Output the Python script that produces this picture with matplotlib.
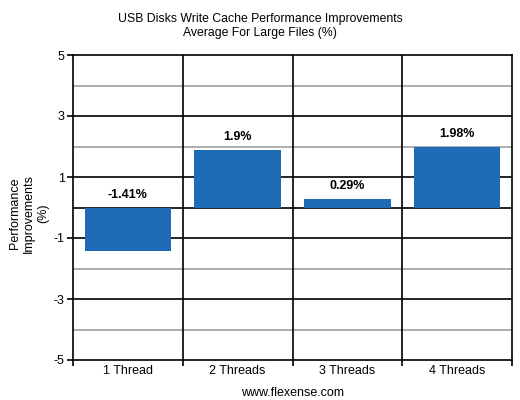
import matplotlib
matplotlib.use("Agg")
import matplotlib.pyplot as plt
from matplotlib.ticker import FixedLocator

plt.rcParams['font.family'] = ['Liberation Sans', 'DejaVu Sans']

categories = ["1 Thread", "2 Threads", "3 Threads", "4 Threads"]
values = [-1.41, 1.9, 0.29, 1.98]
labels = ["-1.41%", "1.9%", "0.29%", "1.98%"]

fig = plt.figure(figsize=(5.2, 4.0), dpi=100)
ax = fig.add_axes([0.1404, 0.1, 0.8442, 0.7625])

x = list(range(len(categories)))
ax.set_xlim(-0.5, len(categories) - 0.5)
ax.set_ylim(-5, 5)

# grid lines
for y in [-4, -2, 2, 4]:
    ax.axhline(y, color='#a0a0a0', lw=1.2, zorder=0)
for y in [-3, -1, 0, 1, 3]:
    ax.axhline(y, color='black', lw=1.2, zorder=0)
for b in [0.5, 1.5, 2.5]:
    ax.axvline(b, color='black', lw=1.2, zorder=0)

ax.bar(x, values, width=0.79, color='#1e6bb8', zorder=2)
for xi, v, lab in zip(x, values, labels):
    ax.annotate(lab, (xi, max(v, 0)), xytext=(0, 5), textcoords='offset points',
                ha='center', va='bottom', fontsize=9, fontweight='bold', zorder=3)

for s in ax.spines.values():
    s.set_linewidth(1.2)
    s.set_color('black')

ax.yaxis.set_major_locator(FixedLocator([-5, -3, -1, 1, 3, 5]))
ax.set_yticklabels(['-5', '-3', '-1', '1', '3', '5'])
ax.set_xticks(x)
ax.set_xticklabels(categories)
ax.xaxis.set_minor_locator(FixedLocator([-0.5, 0.5, 1.5, 2.5, 3.5]))
ax.tick_params(axis='x', which='major', length=0, labelsize=9, pad=3.5)
ax.tick_params(axis='x', which='minor', length=4, width=1.2, direction='out')
ax.tick_params(axis='y', length=4, width=1.2, labelsize=9, pad=2)

ax.set_ylabel("Performance\nImprovements\n(%)", fontsize=9, linespacing=1.2)
ax.yaxis.set_label_coords(-0.055, 0.48)
ax.set_xlabel("www.flexense.com", fontsize=9, labelpad=7)
fig.suptitle("USB Disks Write Cache Performance Improvements\nAverage For Large Files (%)",
             fontsize=8.8, y=0.968, linespacing=1.2)

fig.savefig("out.png", dpi=100)
